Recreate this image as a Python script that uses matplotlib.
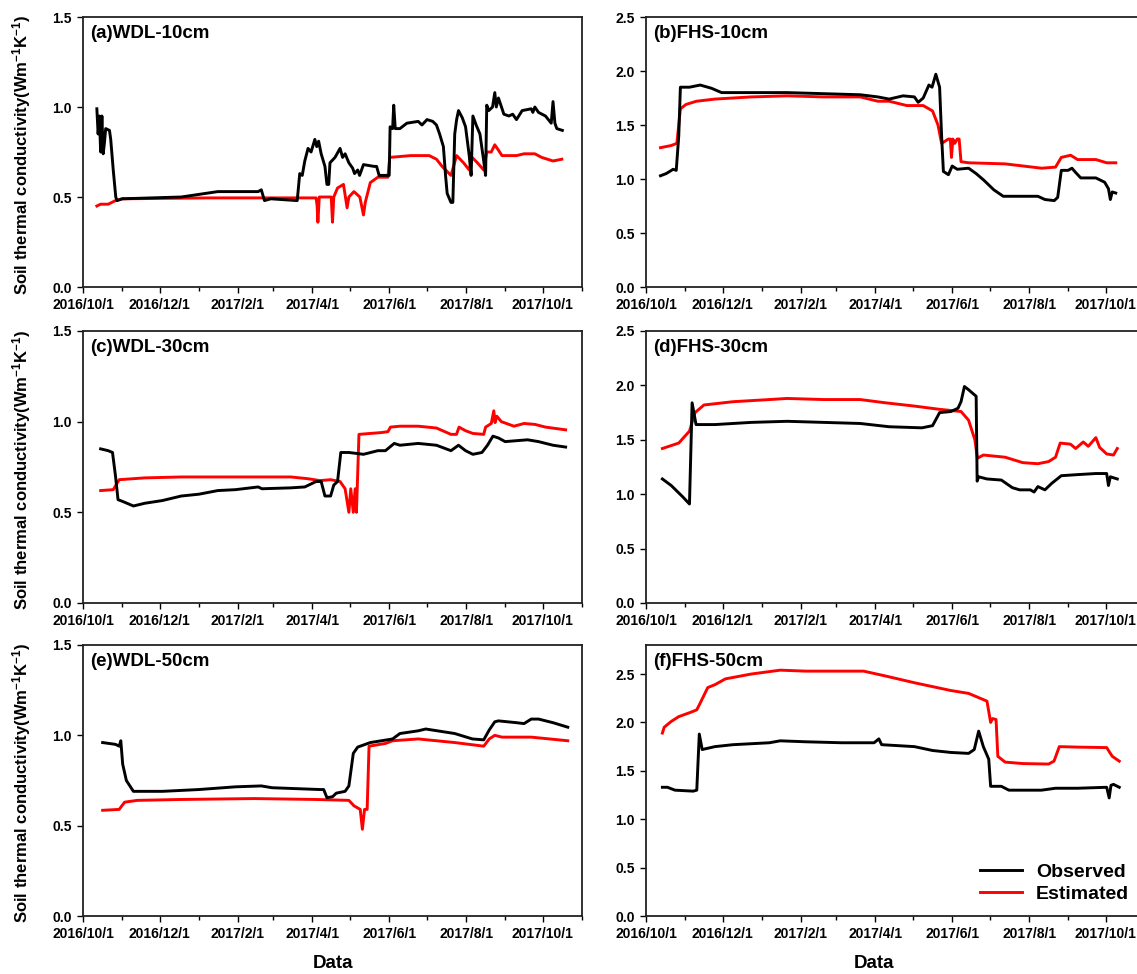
import numpy as np
import matplotlib
matplotlib.use("Agg")
import matplotlib.pyplot as plt
import matplotlib.dates as mdates

plt.rcParams['font.family'] = ['Liberation Sans', 'DejaVu Sans']
plt.rcParams['font.weight'] = 'bold'
plt.rcParams['mathtext.fontset'] = 'custom'
plt.rcParams['mathtext.rm'] = 'Liberation Sans:bold'
plt.rcParams['mathtext.bf'] = 'Liberation Sans:bold'
plt.rcParams['mathtext.default'] = 'bf'

START = np.datetime64('2016-10-01')
END = np.datetime64('2017-11-01')

# ---- (a) WDL-10cm ----
a_obs_day = [11, 12, 13, 14, 15, 16, 17, 18, 21, 22, 24, 26, 27, 31, 78, 107, 139, 141.5, 144, 149, 170,
             172, 174, 176, 178.6, 181, 184, 185.5, 187, 189, 192, 193.6, 195, 196, 200, 204, 206, 208, 211,
             214, 215.5, 218, 219.5, 222.6, 231, 233, 235, 240, 243, 243.7, 245.7, 246.6, 247.8, 251.5, 257,
             266, 269, 273, 277.6, 280.5, 283, 286, 287.7, 289, 292, 293.5, 295, 296.5, 298, 301, 303.6,
             306.5, 308, 309.4, 312, 315, 318, 319.5, 320.4, 322, 325, 326.8, 328, 329.7, 334, 338, 341,
             344, 348.5, 355.7, 357, 358.6, 361.5, 367, 371.6, 373, 374.5, 376, 380.4]
a_obs_val = [0.99, 0.85, 0.95, 0.75, 0.95, 0.74, 0.80, 0.88, 0.87, 0.82, 0.65, 0.50, 0.48, 0.49, 0.50, 0.53,
             0.53, 0.54, 0.48, 0.49, 0.48,
             0.63, 0.62, 0.70, 0.77, 0.75, 0.82, 0.78, 0.81, 0.74, 0.67, 0.57, 0.57, 0.69, 0.72, 0.77, 0.72,
             0.74, 0.69, 0.66, 0.63, 0.65, 0.62, 0.68, 0.67, 0.67, 0.62, 0.62, 0.62, 0.89, 0.88, 1.01, 0.88,
             0.88, 0.91, 0.92, 0.90, 0.93, 0.92, 0.90, 0.85, 0.78, 0.62, 0.52, 0.47, 0.47, 0.85, 0.93, 0.98,
             0.94, 0.89, 0.73, 0.62, 0.95, 0.90, 0.85, 0.70, 0.62, 1.01, 0.98, 1.00, 1.08, 1.00, 1.05, 0.96,
             0.95, 0.96, 0.93, 0.98, 0.99, 0.97, 1.00, 0.97, 0.95, 0.91, 1.03, 0.91, 0.88, 0.87]
a_est_day = [11, 14, 20, 25.8, 31.5, 100, 185, 185.8, 186.4, 187.5, 197, 198, 199, 202, 206.7, 209.6, 211,
             215, 219.7, 222.6, 224, 228, 234, 242, 243.4, 260, 274.7, 280.5, 285, 292, 296.5, 302, 306.5,
             308.8, 313, 318, 320.4, 324, 326.8, 329.7, 332.5, 344, 350, 358.6, 364, 373, 380]
a_est_val = [0.45, 0.46, 0.46, 0.48, 0.49, 0.495, 0.495, 0.45, 0.36, 0.50, 0.50, 0.36, 0.50, 0.55, 0.57,
             0.44, 0.50, 0.53, 0.50, 0.40, 0.47, 0.58, 0.61, 0.61, 0.72, 0.73, 0.73, 0.71, 0.67, 0.62, 0.73,
             0.69, 0.65, 0.72, 0.69, 0.65, 0.75, 0.75, 0.79, 0.76, 0.73, 0.73, 0.74, 0.74, 0.72, 0.70, 0.71]

# ---- (b) FHS-10cm ----
b_obs_day = [11.5, 16, 21.6, 24, 26, 27.3, 34.5, 43, 52, 60, 83.5, 112, 141, 170, 184, 193, 204, 213, 216,
             220, 224.5, 227, 230, 233, 234.6, 236, 240, 243, 247, 256, 262, 268, 276, 283.5, 311, 316.6,
             324, 326.7, 329.6, 335, 338, 341, 345, 357, 364, 367, 368.5, 370, 372.8]
b_obs_val = [1.03, 1.05, 1.09, 1.08, 1.40, 1.85, 1.85, 1.87, 1.84, 1.80, 1.80, 1.80, 1.79, 1.78, 1.76, 1.74,
             1.77, 1.76, 1.71, 1.75, 1.87, 1.85, 1.97, 1.85, 1.40, 1.07, 1.04, 1.12, 1.09, 1.10, 1.05, 0.99,
             0.90, 0.84, 0.84, 0.81, 0.80, 0.83, 1.08, 1.08, 1.10, 1.06, 1.01, 1.01, 0.97, 0.91, 0.81, 0.88,
             0.87]
b_est_day = [11.5, 20, 24.5, 27.3, 31.7, 40, 54.7, 83.5, 112, 141, 170, 184, 193, 207, 220, 227.4, 231.7,
             234.6, 240, 241.5, 242.4, 243.5, 245, 247, 248.5, 250, 256, 285, 314, 325, 329.6, 337, 342.5,
             357, 365.6, 372.8]
b_est_val = [1.29, 1.31, 1.33, 1.65, 1.69, 1.72, 1.74, 1.76, 1.77, 1.76, 1.76, 1.72, 1.72, 1.68, 1.68,
             1.63, 1.50, 1.33, 1.37, 1.37, 1.20, 1.37, 1.33, 1.37, 1.37, 1.16, 1.15, 1.14, 1.10, 1.11, 1.20,
             1.22, 1.18, 1.18, 1.15, 1.15]

# ---- (c) WDL-30cm ----
c_obs_day = [14, 20, 23.4, 25.8, 27.8, 31.5, 40, 49, 63, 78, 92, 107, 121, 139, 142, 165, 176, 185, 189, 192,
             196.5, 199, 202, 204.6, 211, 222.6, 234, 240, 247, 251.5, 266, 280.5, 292, 298, 303.6, 309.4,
             316.6, 321, 325.3, 329.7, 335, 352.8, 361.5, 373, 383]
c_obs_val = [0.85, 0.84, 0.83, 0.70, 0.57, 0.56, 0.535, 0.55, 0.565, 0.59, 0.60, 0.62, 0.625, 0.64, 0.63,
             0.635, 0.64, 0.67, 0.67, 0.59, 0.59, 0.65, 0.67, 0.83, 0.83, 0.82, 0.84, 0.84, 0.88, 0.87, 0.88,
             0.87, 0.84, 0.87, 0.84, 0.82, 0.83, 0.87, 0.92, 0.91, 0.89, 0.90, 0.89, 0.87, 0.86]
c_est_day = [14, 24, 28.7, 49, 78, 136, 165, 179, 188, 196.5, 204, 208, 211, 212.5, 214.5, 216, 217, 219,
             237, 242, 244, 251.5, 266, 280.5, 292, 296.4, 298.4, 303.6, 309.4, 318, 319.5, 324, 326, 327,
             328.4, 332, 342, 350, 358.6, 367, 383]
c_est_val = [0.62, 0.625, 0.68, 0.69, 0.695, 0.695, 0.695, 0.685, 0.675, 0.68, 0.67, 0.63, 0.50, 0.63, 0.50,
             0.63, 0.50, 0.93, 0.94, 0.945, 0.97, 0.975, 0.975, 0.965, 0.93, 0.93, 0.97, 0.95, 0.935, 0.93,
             0.97, 0.99, 1.06, 0.995, 1.03, 1.00, 0.975, 0.99, 0.985, 0.97, 0.955]

# ---- (d) FHS-30cm ----
d_obs_day = [13, 20, 28.8, 34.5, 36.6, 39.7, 54.7, 83.5, 112, 141, 170, 193, 219, 227.4, 233, 242, 247.6, 250,
             252.7, 256, 262, 262.8, 264, 270.6, 282, 290.7, 296.5, 305, 308, 311, 316.6, 322, 329.6, 342.5,
             357, 365.6, 367, 368.5, 374]
d_obs_val = [1.14, 1.08, 0.98, 0.91, 1.84, 1.64, 1.64, 1.66, 1.67, 1.66, 1.65, 1.62, 1.61, 1.63, 1.75,
             1.76, 1.79, 1.85, 1.99, 1.96, 1.90, 1.12, 1.16, 1.14, 1.13, 1.06, 1.04, 1.04, 1.02, 1.07, 1.04,
             1.10, 1.17, 1.18, 1.19, 1.19, 1.08, 1.16, 1.14]
d_est_day = [13, 26, 34.5, 38.9, 46, 69, 98, 112, 141, 170, 190, 213, 233, 250, 256, 261, 263, 267.7, 285,
             299, 311, 319.5, 325, 328.7, 336.8, 341, 347, 351, 357, 360, 365.6, 371, 374]
d_est_val = [1.42, 1.47, 1.58, 1.75, 1.82, 1.85, 1.87, 1.88, 1.87, 1.87, 1.84, 1.81, 1.78, 1.76, 1.68,
             1.50, 1.33, 1.36, 1.34, 1.29, 1.28, 1.30, 1.34, 1.47, 1.46, 1.42, 1.48, 1.44, 1.52, 1.43, 1.37,
             1.36, 1.42]

# ---- (e) WDL-50cm ----
e_obs_day = [15.6, 25.8, 28.7, 30, 31.5, 34.4, 40, 63, 92, 121, 141.5, 150, 188, 191, 193.6, 198, 201, 208,
             211, 214.5, 218, 228, 245.7, 251.5, 266, 272, 295, 309, 318, 322.4, 326.8, 329.7, 344, 350,
             355.7, 361.5, 373, 384.7]
e_obs_val = [0.96, 0.95, 0.94, 0.97, 0.84, 0.75, 0.69, 0.69, 0.70, 0.715, 0.72, 0.71, 0.70, 0.70, 0.655,
             0.66, 0.68, 0.69, 0.72, 0.90, 0.935, 0.96, 0.98, 1.01, 1.025, 1.035, 1.01, 0.98, 0.975, 1.03,
             1.075, 1.08, 1.07, 1.065, 1.09, 1.09, 1.07, 1.045]
e_est_day = [15.6, 28.7, 33, 43, 78, 136, 185, 211, 215, 220, 221.7, 223.4, 225.5, 227, 240, 245.7, 266,
             295, 318, 322.4, 326.8, 332.5, 355.7, 384.7]
e_est_val = [0.585, 0.59, 0.63, 0.64, 0.645, 0.65, 0.645, 0.64, 0.61, 0.59, 0.48, 0.59, 0.59, 0.94, 0.955,
             0.97, 0.98, 0.96, 0.94, 0.98, 1.00, 0.99, 0.99, 0.97]

# ---- (f) FHS-50cm ----
f_obs_day = [13, 17, 23, 37.4, 40.3, 42.3, 44.6, 54.7, 69, 98, 106.5, 126.7, 155.4, 181, 184.8, 187, 213,
             227.4, 241.8, 256, 260.5, 264, 267.7, 272, 273.5, 282, 288, 313.8, 325, 342.5, 365.6, 367.6,
             369, 371, 375.6]
f_obs_val = [1.33, 1.33, 1.30, 1.29, 1.30, 1.88, 1.72, 1.75, 1.77, 1.79, 1.81, 1.80, 1.79, 1.79, 1.83, 1.77,
             1.75, 1.71, 1.69, 1.68, 1.72, 1.91, 1.75, 1.62, 1.34, 1.34, 1.30, 1.30, 1.32, 1.32, 1.33, 1.22,
             1.35, 1.36, 1.33]
f_est_day = [13, 14.4, 20, 26, 34.5, 40.3, 43, 49, 54.7, 63, 83.5, 106.5, 126.7, 155.4, 172.7, 190, 213,
             241.8, 256, 270.6, 273.5, 275, 277.8, 279.2, 285, 299, 319.5, 323.8, 328, 342.5, 365.6, 370,
             375.6]
f_est_val = [1.89, 1.95, 2.01, 2.06, 2.10, 2.13, 2.20, 2.36, 2.39, 2.45, 2.50, 2.54, 2.53, 2.53, 2.53, 2.48,
             2.41, 2.33, 2.30, 2.22, 2.00, 2.04, 2.03, 1.65, 1.59, 1.575, 1.57, 1.60, 1.75, 1.745, 1.74,
             1.65, 1.60]

panels = [
    ("(a)WDL-10cm", a_obs_day, a_obs_val, a_est_day, a_est_val, 1.5, [0.0, 0.5, 1.0, 1.5]),
    ("(b)FHS-10cm", b_obs_day, b_obs_val, b_est_day, b_est_val, 2.5, [0.0, 0.5, 1.0, 1.5, 2.0, 2.5]),
    ("(c)WDL-30cm", c_obs_day, c_obs_val, c_est_day, c_est_val, 1.5, [0.0, 0.5, 1.0, 1.5]),
    ("(d)FHS-30cm", d_obs_day, d_obs_val, d_est_day, d_est_val, 2.5, [0.0, 0.5, 1.0, 1.5, 2.0, 2.5]),
    ("(e)WDL-50cm", e_obs_day, e_obs_val, e_est_day, e_est_val, 1.5, [0.0, 0.5, 1.0, 1.5]),
    ("(f)FHS-50cm", f_obs_day, f_obs_val, f_est_day, f_est_val, 2.8, [0.0, 0.5, 1.0, 1.5, 2.0, 2.5]),
]

W, H = 1137, 974
fig = plt.figure(figsize=(W / 100, H / 100), dpi=100)

lefts = [83, 646]
tops = [17, 331, 645]
bottoms = [287, 603, 916]
pw = 499


def to_dates(days):
    return START + np.round(np.array(days) * 24).astype('timedelta64[h]')


def fmt_date(x, pos):
    d = mdates.num2date(x)
    return f"{d.year}/{d.month}/{d.day}"


for i, (title, od, ov, ed, ev, ymax, yt) in enumerate(panels):
    r, c = divmod(i, 2)
    l = lefts[c]
    ax = fig.add_axes([l / W, 1 - bottoms[r] / H, pw / W, (bottoms[r] - tops[r]) / H])
    ax.plot(to_dates(od), ov, color='black', lw=2.1, label='Observed', zorder=3)
    ax.plot(to_dates(ed), ev, color='#ff0000', lw=2.1, label='Estimated', zorder=2)
    ax.set_xlim(START, END)
    ax.set_ylim(0, ymax)
    ax.set_yticks(yt)
    ax.set_yticklabels([f"{v:.1f}" for v in yt])
    ax.xaxis.set_major_locator(mdates.MonthLocator(bymonth=[2, 4, 6, 8, 10, 12]))
    ax.xaxis.set_minor_locator(mdates.MonthLocator())
    ax.xaxis.set_major_formatter(matplotlib.ticker.FuncFormatter(fmt_date))
    ax.tick_params(axis='both', which='major', labelsize=10, length=4, width=1.0, direction='out', pad=4)
    ax.tick_params(axis='x', which='minor', length=3, width=1.0)
    for lab in ax.get_xticklabels() + ax.get_yticklabels():
        lab.set_fontweight('bold')
    for s in ax.spines.values():
        s.set_linewidth(1.3)
        s.set_color('#222222')
    ax.text(0.015, 0.94, title, transform=ax.transAxes, fontsize=13.5, fontweight='bold', va='center',
            ha='left')
    if c == 0:
        ax.set_ylabel("Soil thermal conductivity(Wm$^{-1}$K$^{-1}$)", fontsize=12,
                      fontweight='bold')
        ax.yaxis.set_label_coords(-0.1, 0.49)
    if r == 2:
        ax.set_xlabel("Data", fontsize=13.5, fontweight='bold')
        if c == 1:
            ax.xaxis.set_label_coords((874 - l) / pw, -0.145)
        else:
            ax.xaxis.set_label_coords(0.5, -0.145)
    if i == 5:
        ax.legend(loc='lower right', bbox_to_anchor=((1137 - l) / pw, 0.02), frameon=False,
                  prop={'size': 14, 'weight': 'bold'}, handlelength=2.2, handletextpad=0.7,
                  labelspacing=0.2, borderaxespad=0)

fig.savefig('out.png', dpi=100)
